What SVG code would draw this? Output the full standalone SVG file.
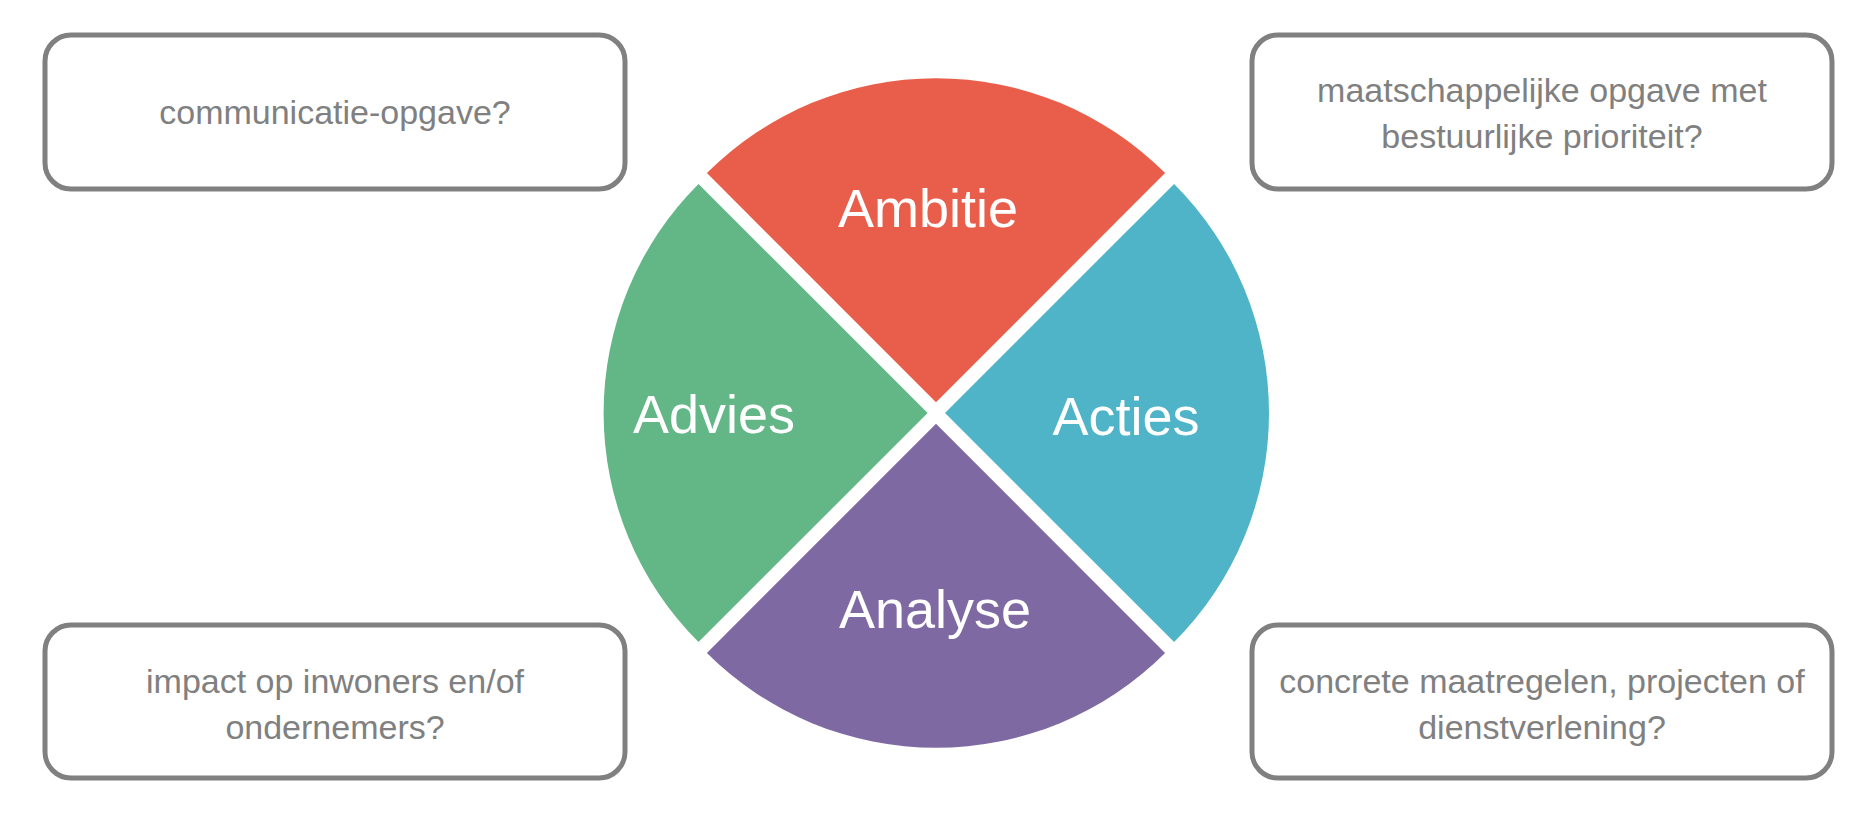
<svg xmlns="http://www.w3.org/2000/svg" width="1870" height="830" viewBox="0 0 1870 830">
<style>
.box{fill:#ffffff;stroke:#808080;stroke-width:5}
.q{font-family:"Liberation Sans",Arial,sans-serif;font-size:34px;fill:#808080;text-anchor:middle}
.lbl{font-family:"Liberation Sans",Arial,sans-serif;font-size:54px;fill:#ffffff;text-anchor:middle}
</style>
<rect width="1870" height="830" fill="#ffffff"/>
<g id="ambitie">
<path d="M936 402.2 L706.9 173.1 A324 324 0 0 1 1165.1 173.1 Z" fill="#E95E4A"/>
<text class="lbl" x="928" y="227">Ambitie</text>
</g>
<g id="acties">
<path d="M945 413 L1174.1 183.9 A324 324 0 0 1 1174.1 642.1 Z" fill="#4FB4C7"/>
<text class="lbl" x="1126" y="435">Acties</text>
</g>
<g id="analyse">
<path d="M936 423.8 L1165.1 652.9 A324 324 0 0 1 706.9 652.9 Z" fill="#7E69A3"/>
<text class="lbl" x="935" y="628">Analyse</text>
</g>
<g id="advies">
<path d="M927.6 413 L698.5 642.1 A324 324 0 0 1 698.5 183.9 Z" fill="#63B686"/>
<text class="lbl" x="714" y="433">Advies</text>
</g>
<g id="box-communicatie">
<rect class="box" x="45" y="35" width="580" height="154" rx="26"/>
<text class="q" x="335" y="124">communicatie-opgave?</text>
</g>
<g id="box-maatschappelijk">
<rect class="box" x="1252" y="35" width="580" height="154" rx="26"/>
<text class="q" x="1542" y="102">maatschappelijke opgave met</text>
<text class="q" x="1542" y="148">bestuurlijke prioriteit?</text>
</g>
<g id="box-impact">
<rect class="box" x="45" y="625" width="580" height="153" rx="26"/>
<text class="q" x="335" y="693">impact op inwoners en/of</text>
<text class="q" x="335" y="739">ondernemers?</text>
</g>
<g id="box-concreet">
<rect class="box" x="1252" y="625" width="580" height="153" rx="26"/>
<text class="q" x="1542" y="693">concrete maatregelen, projecten of</text>
<text class="q" x="1542" y="739">dienstverlening?</text>
</g>
<g id="connectors"></g>
</svg>
